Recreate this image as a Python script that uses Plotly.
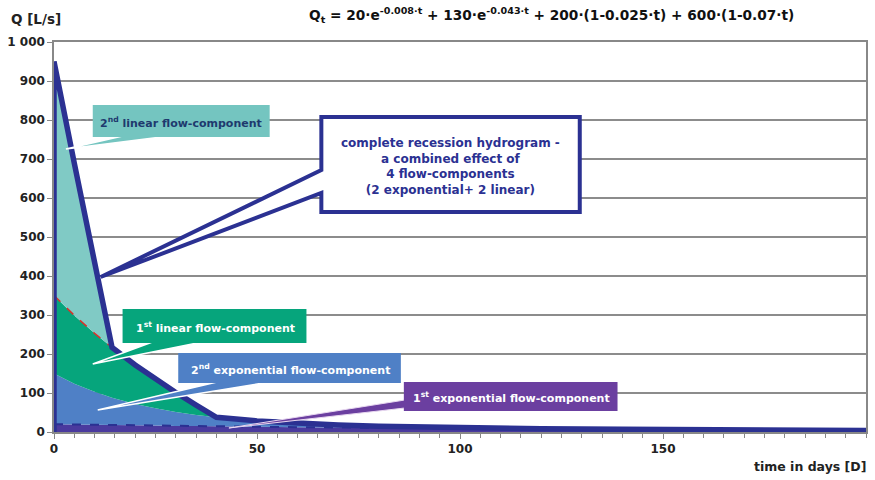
import plotly.graph_objects as go

# ---- data ----
t_days = [0, 5, 10, 14.3, 20, 25, 30, 35, 40, 50, 60, 70, 80, 90, 100, 120, 140, 160, 180, 200]
exp1 = [20.0, 19.2, 18.5, 17.8, 17.0, 16.4, 15.7, 15.1, 14.5, 13.4, 12.4, 11.4, 10.5, 9.7, 9.0, 7.7, 6.5, 5.6, 4.7, 4.0]
exp2 = [130.0, 104.8, 84.5, 70.3, 54.9, 44.3, 35.7, 28.8, 23.2, 15.1, 9.8, 6.4, 4.2, 2.7, 1.8, 0.7, 0.3, 0.1, 0.05, 0.02]
lin1 = [200, 175, 150, 128.5, 100, 75, 50, 25, 0, 0, 0, 0, 0, 0, 0, 0, 0, 0, 0, 0]
lin2 = [600, 390, 180, 0, 0, 0, 0, 0, 0, 0, 0, 0, 0, 0, 0, 0, 0, 0, 0, 0]
y_ticks = [0, 100, 200, 300, 400, 500, 600, 700, 800, 900, 1000]
y_tick_labels = ["0", "100", "200", "300", "400", "500", "600", "700", "800", "900", "1 000"]
x_ticks = [0, 50, 100, 150]
x_tick_labels = ["0", "50", "100", "150"]

total = [a + b + c + d for a, b, c, d in zip(exp1, exp2, lin1, lin2)]
green_top = [a + b + c for a, b, c in zip(exp1, exp2, lin1)]

NAVY = "#2B3192"
TEAL = "#80CAC5"
TEAL_BOX = "#74C5C0"
GREEN = "#06A57C"
BLUE = "#4F80C6"
PURPLE = "#6B3FA0"
FONT = "DejaVu Sans"

fig = go.Figure()
fig.add_trace(go.Scatter(x=t_days, y=exp1, stackgroup="q", mode="none", fillcolor="#4A3A9E", name="exp1"))
fig.add_trace(go.Scatter(x=t_days, y=exp2, stackgroup="q", mode="none", fillcolor=BLUE, name="exp2"))
fig.add_trace(go.Scatter(x=t_days, y=lin1, stackgroup="q", mode="none", fillcolor=GREEN, name="lin1"))
fig.add_trace(go.Scatter(x=t_days, y=lin2, stackgroup="q", mode="none", fillcolor=TEAL, name="lin2"))
# dashed boundaries
fig.add_trace(go.Scatter(x=t_days, y=exp1, mode="lines", line=dict(color=NAVY, width=2, dash="dash")))
fig.add_trace(go.Scatter(x=t_days[:4], y=green_top[:4], mode="lines", line=dict(color="#D8322A", width=1.5, dash="dash")))
# total hydrogram outline
fig.add_trace(go.Scatter(x=[0] + t_days, y=[0] + total, mode="lines",
                         line=dict(color=NAVY, width=5.5), line_shape="linear"))

L, R, T, B = 51, 868, 42, 432
W, H = R - L, B - T


def px(x):
    return (x - L) / W


def py(y):
    return (B - y) / H


def path(points):
    s = "M " + " L ".join(f"{px(a):.5f},{py(b):.5f}" for a, b in points) + " Z"
    return s


shapes = []
# teal callout
shapes.append(dict(type="path", xref="paper", yref="paper",
                   path=path([(120, 136), (167, 136), (63, 149)]),
                   fillcolor=TEAL_BOX, line=dict(color="white", width=1.5)))
shapes.append(dict(type="rect", xref="paper", yref="paper", x0=px(90), x1=px(268), y0=py(137), y1=py(105),
                   fillcolor=TEAL_BOX, line=dict(width=0)))
# green callout
shapes.append(dict(type="path", xref="paper", yref="paper",
                   path=path([(150, 342), (200, 342), (90, 364)]),
                   fillcolor=GREEN, line=dict(color="white", width=1.5)))
shapes.append(dict(type="rect", xref="paper", yref="paper", x0=px(120), x1=px(305), y0=py(343), y1=py(309),
                   fillcolor=GREEN, line=dict(width=0)))
# blue callout
shapes.append(dict(type="path", xref="paper", yref="paper",
                   path=path([(215, 382), (268, 382), (95, 410)]),
                   fillcolor=BLUE, line=dict(color="white", width=1.5)))
shapes.append(dict(type="rect", xref="paper", yref="paper", x0=px(176), x1=px(400), y0=py(383), y1=py(353),
                   fillcolor=BLUE, line=dict(width=0)))
# purple callout
shapes.append(dict(type="path", xref="paper", yref="paper",
                   path=path([(404, 400), (404, 408), (227, 428)]),
                   fillcolor=PURPLE, line=dict(color="#E8D8F0", width=1)))
shapes.append(dict(type="rect", xref="paper", yref="paper", x0=px(403), x1=px(618), y0=py(411), y1=py(382),
                   fillcolor=PURPLE, line=dict(width=0)))
# big callout
shapes.append(dict(type="path", xref="paper", yref="paper",
                   path=path([(320, 117), (580, 117), (580, 212), (320, 212), (320, 193), (98, 277), (320, 170)]),
                   fillcolor="white", line=dict(color=NAVY, width=4)))

annotations = []


def ann(x, y, text, size=12, color="white", xanchor="center"):
    annotations.append(dict(xref="paper", yref="paper", x=px(x), y=py(y), text=text, showarrow=False,
                            xanchor=xanchor, yanchor="middle",
                            font=dict(family=FONT, size=size, color=color)))


ann(179, 122, "<b>2<sup>nd</sup> linear flow-component</b>", 11, "#1E3A6E")
ann(213, 327, "<b>1<sup>st</sup> linear flow-component</b>", 11)
ann(289, 369, "<b>2<sup>nd</sup> exponential flow-component</b>", 11)
ann(511, 397, "<b>1<sup>st</sup> exponential flow-component</b>", 11)
annotations.append(dict(xref="paper", yref="paper", x=px(450), y=py(166),
                        text="<b>complete recession hydrogram -<br>a combined effect of<br>4 flow-components<br>(2 exponential+ 2 linear)</b>",
                        showarrow=False, xanchor="center", yanchor="middle", align="center",
                        font=dict(family=FONT, size=12, color=NAVY)))
ann(552, 15, "<b>Q<sub>t</sub> = 20·e<sup>-0.008·t</sup> + 130·e<sup>-0.043·t</sup> + 200·(1-0.025·t) + 600·(1-0.07·t)</b>",
    13.7, "#111111")
ann(6, 19, "<b>Q [L/s]</b>", 13.5, "#222222", xanchor="left")
ann(870, 467, "<b>time in days [D]</b>", 12.5, "#222222", xanchor="right")

fig.update_layout(
    width=875, height=480,
    margin=dict(l=L, r=875 - R, t=T, b=480 - B),
    paper_bgcolor="white", plot_bgcolor="white",
    showlegend=False,
    shapes=shapes, annotations=annotations,
    xaxis=dict(range=[0, 200], tickvals=x_ticks, ticktext=x_tick_labels, ticks="outside", ticklen=5,
               tickcolor="#888888", showgrid=False, zeroline=False,
               showline=True, linecolor="#888888", linewidth=1.5, mirror=True,
               minor=dict(dtick=5, tick0=0, ticks="outside", ticklen=4, tickcolor="#888888", showgrid=False),
               tickfont=dict(family=FONT, size=12, color="#222222", weight="bold")),
    yaxis=dict(range=[0, 1000], tickvals=y_ticks, ticktext=y_tick_labels, ticks="outside", ticklen=5,
               tickcolor="#888888", showgrid=True, gridcolor="#8C8C8C", gridwidth=1.5, zeroline=False,
               showline=True, linecolor="#888888", linewidth=1.5, mirror=True,
               tickfont=dict(family=FONT, size=12, color="#222222", weight="bold")),
)

fig.write_html("out.html")
